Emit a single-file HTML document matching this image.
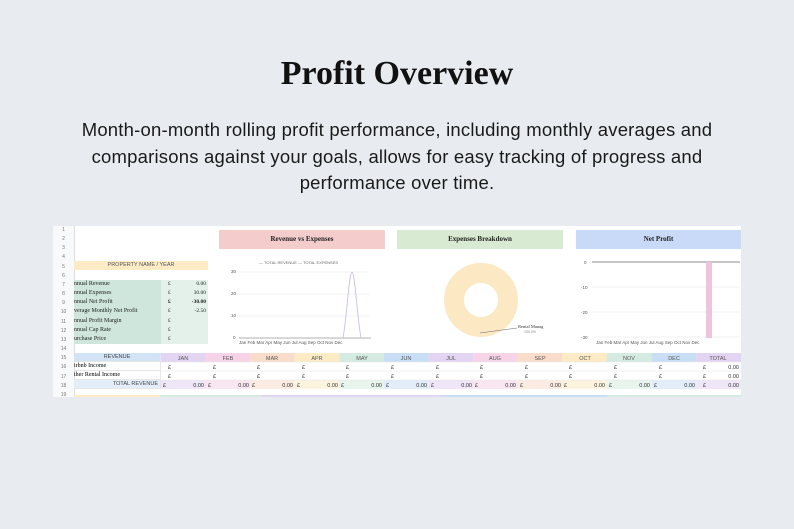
<!DOCTYPE html><html><head><meta charset="utf-8"><style>
body{margin:0;width:794px;height:529px;background:#e8ecf0;position:relative;overflow:hidden;font-family:"Liberation Sans",sans-serif}
.a{position:absolute}
h1{position:absolute;left:0;width:794px;top:55px;margin:0;text-align:center;font:bold 34px "Liberation Serif",serif;color:#111}
.sub{position:absolute;left:56px;width:682px;top:117px;text-align:center;font-size:18.5px;line-height:26.5px;color:#1a1a1a;letter-spacing:0.2px}
.sheet{left:53px;top:226px;width:688px;height:171px;background:#fff}
.c{position:absolute;font-size:5.5px;height:9px;line-height:9px;box-sizing:border-box;border-right:1px solid #e6e6e6;border-bottom:1px solid #e6e6e6}
.ct{position:absolute;font:bold 7px "Liberation Serif",serif;text-align:center;line-height:19px;height:19px;color:#222}
.lbl{font:6.5px "Liberation Serif",serif;color:#222;position:absolute}
</style></head><body>
<h1>Profit Overview</h1>
<div class="sub">Month-on-month rolling profit performance, including monthly averages and comparisons against your goals, allows for easy tracking of progress and performance over time.</div>
<div class="a sheet"></div>
<div class="a" style="left:53px;top:226px;width:21px;height:171px;background:#f8f9fa;border-right:1px solid #ddd"></div>
<div class="a" style="left:53px;top:226px;width:21px;font-size:5px;color:#777;text-align:center;line-height:9.15px">1<br>2<br>3<br>4<br>5<br>6<br>7<br>8<br>9<br>10<br>11<br>12<br>13<br>14<br>15<br>16<br>17<br>18<br>19</div>
<div class="a" style="left:74px;top:261px;width:134px;height:9px;background:#fcebc4;font-size:5.5px;color:#555;text-align:center;line-height:9px">PROPERTY NAME / YEAR</div>
<div class="a" style="left:74px;top:280px;width:87px;height:64px;background:#cfe6dc"></div>
<div class="a" style="left:161px;top:280px;width:47px;height:64px;background:#e3f1ea"></div>
<div class="lbl" style="left:74px;top:280px;line-height:9.15px;font-size:6px">nnual Revenue<br>nnual Expenses<br>nnual Net Profit<br>verage Monthly Net Profit<br>nnual Profit Margin<br>nnual Cap Rate<br>urchase Price</div>
<div class="lbl" style="left:168px;top:280px;line-height:9.15px;font-size:5.5px">£<br>£<br><b>£</b><br>£<br>£<br>£<br>£</div>
<div class="lbl" style="left:180px;width:26px;text-align:right;top:280px;line-height:9.15px;font-size:5.5px">0.00<br>30.00<br><b>-30.00</b><br>-2.50</div>
<div class="ct" style="left:219px;top:230px;width:166px;background:#f4cccc">Revenue vs Expenses</div>
<div class="ct" style="left:397px;top:230px;width:166px;background:#d9ead3">Expenses Breakdown</div>
<div class="ct" style="left:576px;top:230px;width:165px;background:#c9daf8">Net Profit</div>
<svg class="a" style="left:219px;top:256px" width="166" height="92">
<text x="40" y="8" font-size="4" fill="#666" font-family="Liberation Sans">— TOTAL REVENUE   — TOTAL EXPENSES</text>
<g stroke="#e6e6e6" stroke-width=".6"><line x1="20" y1="16" x2="150" y2="16"/><line x1="20" y1="38" x2="150" y2="38"/><line x1="20" y1="60" x2="150" y2="60"/></g>
<line x1="20" y1="82" x2="152" y2="82" stroke="#666" stroke-width=".6"/>
<g font-size="4.5" fill="#555" font-family="Liberation Sans"><text x="12" y="17">30</text><text x="12" y="39">20</text><text x="12" y="61">10</text><text x="14" y="83">0</text>
<text x="20" y="88">Jan Feb Mar Apr May Jun  Jul  Aug Sep Oct Nov Dec</text></g>
<path d="M124 82 C128 60,130 16,133 16 C136 16,138 60,142 82" fill="none" stroke="#c9b6e8" stroke-width=".8"/>
</svg>
<svg class="a" style="left:397px;top:256px" width="166" height="92">
<circle cx="84" cy="44" r="27" fill="none" stroke="#fce8c3" stroke-width="20"/>
<line x1="83" y1="77" x2="120" y2="72" stroke="#666" stroke-width=".5"/>
<text x="121" y="72" font-size="4.5" fill="#333" font-family="Liberation Serif">Rental Manag</text>
<text x="127" y="77" font-size="3.5" fill="#888">100.0%</text>
</svg>
<svg class="a" style="left:576px;top:256px" width="166" height="92">
<g stroke="#e6e6e6" stroke-width=".6"><line x1="16" y1="31" x2="164" y2="31"/><line x1="16" y1="56" x2="164" y2="56"/><line x1="16" y1="81" x2="164" y2="81"/></g>
<line x1="16" y1="6" x2="164" y2="6" stroke="#666" stroke-width=".7"/>
<rect x="130" y="6" width="6" height="76" fill="#ecc4de"/>
<g font-size="4.5" fill="#555" font-family="Liberation Sans"><text x="8" y="8">0</text><text x="5" y="33">-10</text><text x="5" y="58">-20</text><text x="5" y="83">-30</text>
<text x="20" y="88">Jan Feb Mar Apr May Jun  Jul  Aug Sep Oct Nov Dec</text></g>
</svg>
<div class="a" style="left:74px;top:353px;width:667px;height:36px">
<div class="c" style="left:0;top:0;width:87px;background:#d2e3f5;text-align:center;color:#444">REVENUE</div>
<div class="c" style="left:0;top:9px;width:87px;font-family:'Liberation Serif';font-size:6px">irbnb Income</div>
<div class="c" style="left:0;top:18px;width:87px;font-family:'Liberation Serif';font-size:6px">ther Rental Income</div>
<div class="c" style="left:0;top:27px;width:87px;background:#e4eef9;text-align:right;padding-right:2px;color:#444">TOTAL REVENUE</div>
</div>
<svg class="a" style="left:161px;top:353px" width="580" height="36" font-family="Liberation Sans" font-size="5.5">
<g>
<rect x="0" y="0" width="44.6" height="9" fill="#e3d4f2"/><rect x="0" y="27" width="44.6" height="9" fill="#efe6f8"/>
<rect x="44.6" y="0" width="44.6" height="9" fill="#f6d3e6"/><rect x="44.6" y="27" width="44.6" height="9" fill="#fae6f1"/>
<rect x="89.2" y="0" width="44.6" height="9" fill="#fadccb"/><rect x="89.2" y="27" width="44.6" height="9" fill="#fcebe2"/>
<rect x="133.8" y="0" width="44.6" height="9" fill="#fcebc4"/><rect x="133.8" y="27" width="44.6" height="9" fill="#fdf4e0"/>
<rect x="178.4" y="0" width="44.6" height="9" fill="#d5ebe1"/><rect x="178.4" y="27" width="44.6" height="9" fill="#e8f4ee"/>
<rect x="223" y="0" width="44.6" height="9" fill="#c9def5"/><rect x="223" y="27" width="44.6" height="9" fill="#e2edf9"/>
<rect x="267.6" y="0" width="44.6" height="9" fill="#e3d4f2"/><rect x="267.6" y="27" width="44.6" height="9" fill="#efe6f8"/>
<rect x="312.2" y="0" width="44.6" height="9" fill="#f6d3e6"/><rect x="312.2" y="27" width="44.6" height="9" fill="#fae6f1"/>
<rect x="356.8" y="0" width="44.6" height="9" fill="#fadccb"/><rect x="356.8" y="27" width="44.6" height="9" fill="#fcebe2"/>
<rect x="401.4" y="0" width="44.6" height="9" fill="#fcebc4"/><rect x="401.4" y="27" width="44.6" height="9" fill="#fdf4e0"/>
<rect x="446" y="0" width="44.6" height="9" fill="#d5ebe1"/><rect x="446" y="27" width="44.6" height="9" fill="#e8f4ee"/>
<rect x="490.6" y="0" width="44.6" height="9" fill="#c9def5"/><rect x="490.6" y="27" width="44.6" height="9" fill="#e2edf9"/>
<rect x="535.2" y="0" width="44.8" height="9" fill="#e3d4f2"/><rect x="535.2" y="27" width="44.8" height="9" fill="#efe6f8"/>
</g>
<g stroke="#e6e6e6" stroke-width=".6"><line x1="0" y1="9" x2="580" y2="9"/><line x1="0" y1="18" x2="580" y2="18"/><line x1="0" y1="27" x2="580" y2="27"/></g>
<g fill="#555" text-anchor="middle"><text x="22" y="7">JAN</text><text x="67" y="7">FEB</text><text x="111" y="7">MAR</text><text x="156" y="7">APR</text><text x="201" y="7">MAY</text><text x="245" y="7">JUN</text><text x="290" y="7">JUL</text><text x="334" y="7">AUG</text><text x="379" y="7">SEP</text><text x="424" y="7">OCT</text><text x="468" y="7">NOV</text><text x="513" y="7">DEC</text><text x="557" y="7">TOTAL</text></g>
<g fill="#333">
<text x="7" y="16">£</text><text x="52" y="16">£</text><text x="96" y="16">£</text><text x="141" y="16">£</text><text x="185" y="16">£</text><text x="230" y="16">£</text><text x="275" y="16">£</text><text x="319" y="16">£</text><text x="364" y="16">£</text><text x="408" y="16">£</text><text x="453" y="16">£</text><text x="498" y="16">£</text><text x="542" y="16">£</text>
<text x="7" y="25">£</text><text x="52" y="25">£</text><text x="96" y="25">£</text><text x="141" y="25">£</text><text x="185" y="25">£</text><text x="230" y="25">£</text><text x="275" y="25">£</text><text x="319" y="25">£</text><text x="364" y="25">£</text><text x="408" y="25">£</text><text x="453" y="25">£</text><text x="498" y="25">£</text><text x="542" y="25">£</text>
<text x="2" y="34">£</text><text x="47" y="34">£</text><text x="91" y="34">£</text><text x="136" y="34">£</text><text x="180" y="34">£</text><text x="225" y="34">£</text><text x="270" y="34">£</text><text x="314" y="34">£</text><text x="359" y="34">£</text><text x="403" y="34">£</text><text x="448" y="34">£</text><text x="493" y="34">£</text><text x="542" y="34">£</text>
</g>
<g fill="#333" text-anchor="end">
<text x="578" y="16">0.00</text><text x="578" y="25">0.00</text>
<text x="43" y="34">0.00</text><text x="88" y="34">0.00</text><text x="132" y="34">0.00</text><text x="177" y="34">0.00</text><text x="221" y="34">0.00</text><text x="266" y="34">0.00</text><text x="311" y="34">0.00</text><text x="355" y="34">0.00</text><text x="400" y="34">0.00</text><text x="444" y="34">0.00</text><text x="489" y="34">0.00</text><text x="534" y="34">0.00</text><text x="578" y="34">0.00</text>
</g>
</svg>
<div class="a" style="left:74px;top:395px;width:667px;height:2px;background:linear-gradient(90deg,#fcebc4 0 13%,#d5ebe1 13% 28%,#e3d4f2 28% 55%,#c9def5 55% 80%,#d5ebe1 80%)"></div>
</body></html>
